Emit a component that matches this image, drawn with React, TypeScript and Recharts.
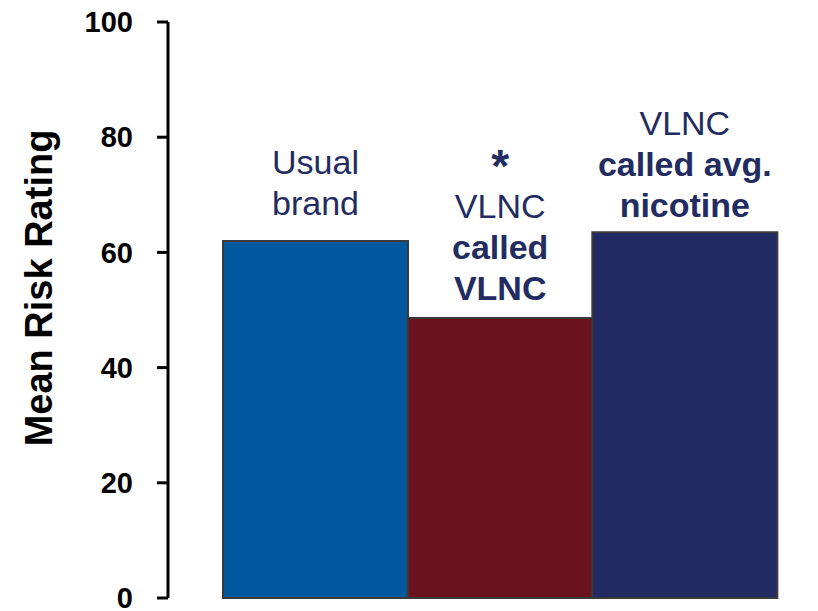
import { BarChart, Bar, XAxis, YAxis, Cell, LabelList, Label } from 'recharts'

const categories = ['Usual brand', 'VLNC called VLNC', 'VLNC called avg. nicotine']
const ratings = [62.0, 48.6, 63.5]
const yTicks = [0, 20, 40, 60, 80, 100]

// text over each bar, top line first
const barLabels = [
  [{ t: 'Usual', b: false }, { t: 'brand', b: false }],
  [{ t: '*', b: true }, { t: 'VLNC', b: false }, { t: 'called', b: true }, { t: 'VLNC', b: true }],
  [{ t: 'VLNC', b: false }, { t: 'called avg.', b: true }, { t: 'nicotine', b: true }],
]

const barColors = ['#00599F', '#6A121E', '#212A63']
const labelGaps = [26, 18, 15]
const FONT = '"Liberation Sans", Arial, sans-serif'
const NAVY = '#232C61'

const data = categories.map((name, i) => ({ name, rating: ratings[i] }))

function BarText(props: any) {
  const { x, y, width, index } = props
  const lines = barLabels[index]
  const cx = x + width / 2
  let base = y - labelGaps[index]
  const placed: { t: string; b: boolean; y: number }[] = []
  for (let i = lines.length - 1; i >= 0; i--) {
    placed.unshift({ ...lines[i], y: base })
    base -= i > 0 && lines[i - 1].t === '*' ? 36 : 41
  }
  return (
    <g>
      {placed.map((l, i) => (
        <text
          key={i}
          x={cx}
          y={l.y}
          textAnchor="middle"
          fill={NAVY}
          fontFamily={FONT}
          fontSize={l.t === '*' ? 46 : 34}
          fontWeight={l.b ? 700 : 400}
        >
          {l.t}
        </text>
      ))}
    </g>
  )
}

const YTitle = () => (
  <text
    transform="translate(52,288) rotate(-90)"
    textAnchor="middle"
    fill="#000"
    fontFamily={FONT}
    fontSize={38}
    fontWeight={700}
  >
    Mean Risk Rating
  </text>
)

export default function App() {
  return (
    <div style={{ position: 'absolute', left: 0, top: 0, background: '#fff' }}>
      <BarChart
        width={818}
        height={611}
        data={data}
        margin={{ top: 22, right: 0, bottom: 13, left: 0 }}
        barCategoryGap={0}
      >
        <XAxis
          dataKey="name"
          tick={false}
          tickLine={false}
          height={0}
          padding={{ left: 55, right: 41 }}
          axisLine={{ stroke: '#000', strokeWidth: 3 }}
        />
        <YAxis
          width={168}
          domain={[0, 100]}
          ticks={yTicks}
          interval={0}
          tickSize={11}
          tickMargin={24}
          axisLine={{ stroke: '#000', strokeWidth: 3 }}
          tickLine={{ stroke: '#000', strokeWidth: 3 }}
          tick={{ fill: '#000', fontSize: 29, fontWeight: 700, fontFamily: FONT }}
        >
          <Label content={<YTitle />} />
        </YAxis>
        <Bar dataKey="rating" isAnimationActive={false} stroke="#3a3a3a" strokeWidth={2}>
          {data.map((d, i) => (
            <Cell key={d.name} fill={barColors[i]} />
          ))}
          <LabelList dataKey="rating" content={<BarText />} />
        </Bar>
      </BarChart>
    </div>
  )
}
